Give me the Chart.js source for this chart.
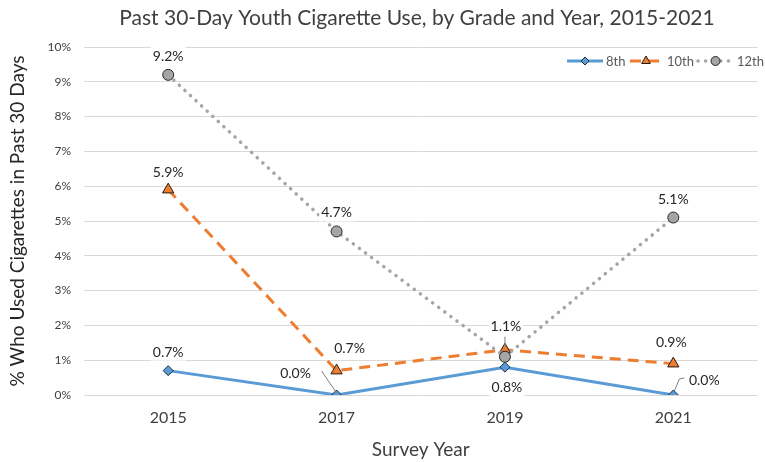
<!DOCTYPE html>
<html><head><meta charset="utf-8">
<script src="https://cdn.jsdelivr.net/npm/chart.js"></script>
<style>html,body{margin:0;padding:0;background:#fff}#wrap{width:765px;height:462px}</style>
</head><body><div id="wrap"><canvas id="c" width="765" height="462"></canvas></div>
<script>
// ---- data ----
const categories = ['2015', '2017', '2019', '2021'];
const seriesNames = ['8th', '10th', '12th'];
const grade8 = [0.7, 0.0, 0.8, 0.0];
const grade10 = [5.9, 0.7, 1.3, 0.9];
const grade12 = [9.2, 4.7, 1.1, 5.1];
const showLabel8 = [true, true, true, true];
const showLabel10 = [true, true, false, true];
const showLabel12 = [true, true, true, true];
const yTickValues = [0, 1, 2, 3, 4, 5, 6, 7, 8, 9, 10];
const titleText = 'Past 30-Day Youth Cigarette Use, by Grade and Year, 2015-2021';
const xTitleText = 'Survey Year';
const yTitleText = '% Who Used Cigarettes in Past 30 Days';

// ---- label placement (offsets from point, px) ----
const labelPos = [
  [{dx:0,dy:-19},{dx:-41,dy:-22,leader:[[-15,-24],[0,-2]]},{dx:2,dy:20},{dx:31,dy:-15,leader:[[11,-17],[6,-16],[1,-4]]}],
  [{dx:0,dy:-18},{dx:13,dy:-23},null,{dx:-2,dy:-22}],
  [{dx:0,dy:-19},{dx:0,dy:-19},{dx:1,dy:-31,leader:[[0,-20],[0,-10]]},{dx:0,dy:-19}]
];
const showLabels = [showLabel8, showLabel10, showLabel12];
const FONT = 'Lato';

function drawMarker(ctx, style, x, y, r, fill, stroke) {
  ctx.save();
  ctx.beginPath();
  if (style === 'rectRot') {
    ctx.moveTo(x, y - r); ctx.lineTo(x + r, y); ctx.lineTo(x, y + r); ctx.lineTo(x - r, y); ctx.closePath();
  } else if (style === 'triangle') {
    ctx.moveTo(x, y - r); ctx.lineTo(x + r * 0.866, y + r * 0.5); ctx.lineTo(x - r * 0.866, y + r * 0.5); ctx.closePath();
  } else {
    ctx.arc(x, y, r, 0, Math.PI * 2);
  }
  ctx.fillStyle = fill; ctx.fill();
  ctx.lineWidth = 1; ctx.strokeStyle = stroke; ctx.setLineDash([]); ctx.stroke();
  ctx.restore();
}

const titlePlugin = {
  id: 'customTitle',
  afterDraw(chart) {
    const ctx = chart.ctx;
    ctx.save();
    ctx.font = '21px ' + FONT;
    ctx.fillStyle = '#404040';
    ctx.textAlign = 'center';
    ctx.textBaseline = 'middle';
    ctx.fillText(titleText, 417, 18);
    ctx.restore();
  }
};

const labelPlugin = {
  id: 'pointLabels',
  afterDatasetsDraw(chart) {
    const ctx = chart.ctx;
    ctx.save();
    ctx.font = '14px ' + FONT;
    ctx.textAlign = 'center';
    ctx.textBaseline = 'middle';
    chart.data.datasets.forEach((ds, di) => {
      const meta = chart.getDatasetMeta(di);
      meta.data.forEach((pt, i) => {
        const p = labelPos[di][i];
        if (!p || !showLabels[di][i]) return;
        if (p.leader) {
          ctx.beginPath();
          ctx.strokeStyle = '#7f7f7f'; ctx.lineWidth = 1; ctx.setLineDash([]);
          p.leader.forEach((q, k) => { const lx = pt.x + q[0], ly = pt.y + q[1]; if (k === 0) ctx.moveTo(lx, ly); else ctx.lineTo(lx, ly); });
          ctx.stroke();
        }
        const txt = ds.data[i].toFixed(1) + '%';
        const w = ctx.measureText(txt).width;
        const cx = pt.x + p.dx, cy = pt.y + p.dy;
        ctx.fillStyle = '#ffffff';
        ctx.fillRect(cx - w / 2 - 2, cy - 9, w + 4, 18);
        ctx.fillStyle = '#262626';
        ctx.fillText(txt, cx, cy + 0.5);
      });
    });
    ctx.restore();
  }
};

const legendPlugin = {
  id: 'customLegend',
  afterDraw(chart) {
    const ctx = chart.ctx;
    const items = [
      {x0: 567, x1: 603, tx: 606},
      {x0: 630, x1: 662, tx: 667},
      {x0: 698, x1: 733, tx: 737}
    ];
    const y = 61;
    ctx.save();
    chart.data.datasets.forEach((ds, di) => {
      const it = items[di];
      ctx.beginPath();
      ctx.strokeStyle = ds.borderColor; ctx.lineWidth = ds.borderWidth;
      ctx.setLineDash(ds.borderDash || []); ctx.lineCap = ds.borderCapStyle || 'butt';
      ctx.moveTo(it.x0, y); ctx.lineTo(it.x1, y); ctx.stroke();
      ctx.setLineDash([]); ctx.lineCap = 'butt';
      drawMarker(ctx, ds.pointStyle, (it.x0 + it.x1) / 2, y, ds.legendR, ds.pointBackgroundColor, ds.pointBorderColor);
      ctx.font = '13px ' + FONT; ctx.fillStyle = '#595959';
      ctx.textAlign = 'left'; ctx.textBaseline = 'middle';
      ctx.fillText(seriesNames[di], it.tx, y + 0.5);
    });
    ctx.restore();
  }
};

const chart = new Chart(document.getElementById('c'), {
  type: 'line',
  data: {
    labels: categories,
    datasets: [
      {label: seriesNames[0], data: grade8, borderColor: '#5B9BD5', borderWidth: 3, pointStyle: 'rectRot', pointRadius: 5,
       pointBackgroundColor: '#5B9BD5', pointBorderColor: '#1F2F3F', pointBorderWidth: 1, order: 3, legendR: 4},
      {label: seriesNames[1], data: grade10, borderColor: '#ED7D31', borderWidth: 3, borderDash: [11, 7], pointStyle: 'triangle', pointRadius: 6.5,
       pointBackgroundColor: '#ED7D31', pointBorderColor: '#2A1A10', pointBorderWidth: 1, order: 2, legendR: 5},
      {label: seriesNames[2], data: grade12, borderColor: '#A5A5A5', borderWidth: 3.5, borderDash: [0.1, 7.5], borderCapStyle: 'round', pointStyle: 'circle', pointRadius: 5.5,
       pointBackgroundColor: '#A5A5A5', pointBorderColor: '#262626', pointBorderWidth: 1, order: 1, legendR: 4.5}
    ]
  },
  options: {
    responsive: false,
    animation: false,
    devicePixelRatio: 1,
    layout: {padding: {top: 47, right: 0, bottom: 0, left: 0}},
    plugins: {legend: {display: false}, title: {display: false}, tooltip: {enabled: false}},
    elements: {line: {tension: 0, fill: false}},
    scales: {
      x: {
        type: 'category', offset: true,
        grid: {display: false, drawTicks: false},
        border: {display: false},
        ticks: {font: {family: FONT, size: 16}, color: '#404040', padding: 13},
        title: {display: true, text: xTitleText, font: {family: FONT, size: 19}, color: '#404040', padding: {top: 0, bottom: 1}},
        afterFit(s) { s.height = 67; }
      },
      y: {
        min: 0, max: 10,
        afterBuildTicks(s) { s.ticks = yTickValues.map(v => ({value: v})); },
        ticks: {font: {family: FONT, size: 12}, color: '#404040', padding: 13, callback: v => v + '%'},
        grid: {color: '#D9D9D9', lineWidth: 1, drawTicks: false},
        border: {display: false},
        title: {display: true, text: yTitleText, font: {family: FONT, size: 19}, color: '#262626', padding: {top: 6, bottom: 0}},
        afterFit(s) { s.width = 84; }
      }
    }
  },
  plugins: [titlePlugin, labelPlugin, legendPlugin]
});
</script></body></html>
